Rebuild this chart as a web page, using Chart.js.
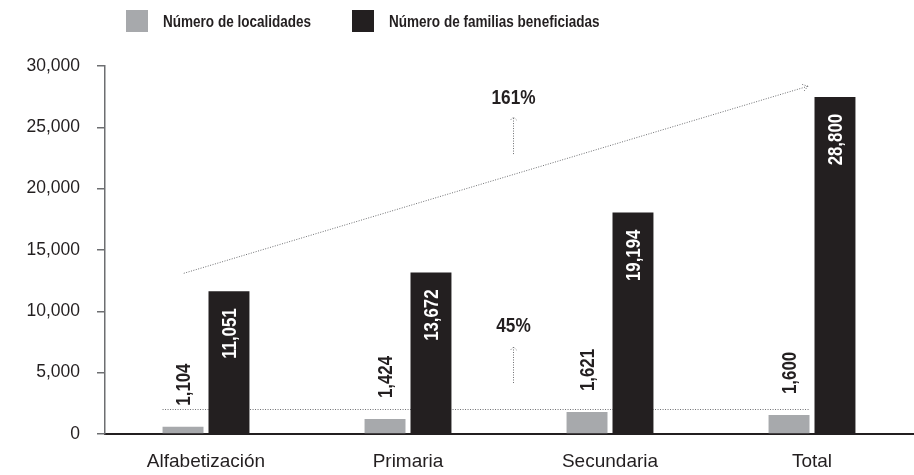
<!DOCTYPE html>
<html><head><meta charset="utf-8">
<script src="https://cdn.jsdelivr.net/npm/chart.js@4.4.0/dist/chart.umd.min.js"></script>
<style>
html,body{margin:0;padding:0;background:#fff;}
#wrap{position:relative;width:914px;height:475px;}
#legend{position:absolute;left:0;top:0;width:914px;height:44px;font-family:"Liberation Sans",Arial,sans-serif;font-weight:bold;font-size:16.5px;color:#231f20;}
.item{position:absolute;top:10px;height:22px;display:flex;align-items:center;white-space:nowrap;}
.box{width:22px;height:22px;margin-right:15px;flex:none;}
.item span{display:inline-block;transform:scaleX(0.82);transform-origin:left center;}
</style></head><body>
<div id="wrap"><canvas id="c" width="914" height="475"></canvas><div id="legend"></div></div>
<script>
// ---- data ----
const categories = ["Alfabetización", "Primaria", "Secundaria", "Total"];
const seriesNames = ["Número de localidades", "Número de familias beneficiadas"];
const seriesColors = ["#a7a9ac", "#231f20"];
// bar heights as drawn in the picture
const localidades = [600, 1220, 1790, 1550];
const familias = [11630, 13170, 18050, 27480];
// printed value labels
const localidadesLabels = ["1,104", "1,424", "1,621", "1,600"];
const familiasLabels = ["11,051", "13,672", "19,194", "28,800"];
const yTicks = [0, 5000, 10000, 15000, 20000, 25000, 30000];
// annotations (category position, value)
const growthLabels = ["161%", "45%"];
const growthTextLevel = [27380, 8800];
const growthArrowFrom = [22820, 4160];
const growthArrowTo = [25840, 7090];
const growthX = 1.52;
const referenceLevel = 2040;
const trendFrom = [-0.11, 13100];
const trendTo = [2.98, 28350];

const FONT = '"Liberation Sans",Arial,sans-serif';
const SQUEEZE = 0.82;

// legend (HTML)
const lg = document.getElementById('legend');
const legendX = [126, 352];
seriesNames.forEach((n, i) => {
  const d = document.createElement('div');
  d.className = 'item';
  d.style.left = legendX[i] + 'px';
  d.innerHTML = '<div class="box" style="background:' + seriesColors[i] + '"></div><span>' + n + '</span>';
  lg.appendChild(d);
});

function xAt(scale, f) {
  const p0 = scale.getPixelForValue(0), p1 = scale.getPixelForValue(1);
  return p0 + (p1 - p0) * f;
}

const annot = {
  id: 'annot',
  beforeDatasetsDraw(chart) {
    const ctx = chart.ctx, xs = chart.scales.x, ys = chart.scales.y;
    const g = chart.getDatasetMeta(0).data;
    ctx.save();
    ctx.strokeStyle = '#6d6e71';
    ctx.lineWidth = 1;
    ctx.setLineDash([1, 1.5]);
    // horizontal reference line
    const yr = Math.round(ys.getPixelForValue(referenceLevel)) + 0.5;
    ctx.beginPath();
    ctx.moveTo(g[0].x - g[0].width / 2, yr);
    ctx.lineTo(g[g.length - 1].x + g[g.length - 1].width / 2, yr);
    ctx.stroke();
    // trend line
    const x1 = xAt(xs, trendFrom[0]), y1 = ys.getPixelForValue(trendFrom[1]);
    const x2 = xAt(xs, trendTo[0]), y2 = ys.getPixelForValue(trendTo[1]);
    ctx.beginPath(); ctx.moveTo(x1, y1); ctx.lineTo(x2, y2); ctx.stroke();
    const ang = Math.atan2(y2 - y1, x2 - x1);
    [0.6, -0.6].forEach(a => {
      ctx.beginPath(); ctx.moveTo(x2, y2);
      ctx.lineTo(x2 - 7 * Math.cos(ang + a), y2 - 7 * Math.sin(ang + a));
      ctx.stroke();
    });
    // growth arrows and labels
    const gx = Math.round(xAt(xs, growthX)) + 0.5;
    growthLabels.forEach((t, i) => {
      const yb = ys.getPixelForValue(growthArrowFrom[i]);
      const yt = ys.getPixelForValue(growthArrowTo[i]);
      ctx.setLineDash([1, 1.5]);
      ctx.beginPath(); ctx.moveTo(gx, yb); ctx.lineTo(gx, yt); ctx.stroke();
      ctx.beginPath(); ctx.moveTo(gx - 3, yt + 3); ctx.lineTo(gx, yt); ctx.lineTo(gx + 3, yt + 3); ctx.stroke();
      ctx.setLineDash([]);
      ctx.save();
      ctx.fillStyle = '#231f20';
      ctx.font = 'bold 21px ' + FONT;
      ctx.textAlign = 'center';
      ctx.textBaseline = 'middle';
      ctx.translate(gx, ys.getPixelForValue(growthTextLevel[i]));
      ctx.scale(SQUEEZE, 1);
      ctx.fillText(t, 0, 0);
      ctx.restore();
    });
    ctx.restore();
  },
  afterDatasetsDraw(chart) {
    const ctx = chart.ctx;
    ctx.save();
    ctx.font = 'bold 20.5px ' + FONT;
    ctx.textBaseline = 'middle';
    chart.getDatasetMeta(0).data.forEach((b, i) => {
      ctx.save();
      ctx.translate(b.x + 1, b.y - 21);
      ctx.rotate(-Math.PI / 2);
      ctx.scale(SQUEEZE, 1);
      ctx.textAlign = 'left';
      ctx.fillStyle = '#231f20';
      ctx.fillText(localidadesLabels[i], 0, 0);
      ctx.restore();
    });
    chart.getDatasetMeta(1).data.forEach((b, i) => {
      ctx.save();
      ctx.translate(b.x + 1, b.y + 17);
      ctx.rotate(-Math.PI / 2);
      ctx.scale(SQUEEZE, 1);
      ctx.textAlign = 'right';
      ctx.fillStyle = '#ffffff';
      ctx.fillText(familiasLabels[i], 0, 0);
      ctx.restore();
    });
    ctx.restore();
  }
};

new Chart(document.getElementById('c'), {
  type: 'bar',
  data: {
    labels: categories,
    datasets: [
      { label: seriesNames[0], data: localidades, backgroundColor: seriesColors[0], categoryPercentage: 0.455, barPercentage: 0.891 },
      { label: seriesNames[1], data: familias, backgroundColor: seriesColors[1], categoryPercentage: 0.455, barPercentage: 0.891 }
    ]
  },
  options: {
    responsive: false,
    animation: false,
    layout: { padding: { top: 66, right: 1, left: 0, bottom: 0 } },
    plugins: { legend: { display: false }, tooltip: { enabled: false } },
    scales: {
      x: {
        grid: { display: false, drawTicks: false },
        border: { display: true, color: '#231f20', width: 2 },
        ticks: { font: { family: FONT, size: 19 }, color: '#231f20', padding: 16 },
        afterFit(s) { s.height = 41; }
      },
      y: {
        min: 0, max: 30000,
        afterBuildTicks(s) { s.ticks = yTicks.map(v => ({ value: v })); },
        grid: { display: true, drawOnChartArea: false, drawTicks: true, tickLength: 8, color: '#6d6e71', lineWidth: 1.5 },
        border: { display: true, color: '#6d6e71', width: 1.5 },
        ticks: { font: { family: FONT, size: 17.5 }, color: '#231f20', padding: 17, callback: v => v.toLocaleString('en-US') },
        afterFit(s) { s.width = 105; }
      }
    }
  },
  plugins: [annot]
});
</script>
</body></html>
